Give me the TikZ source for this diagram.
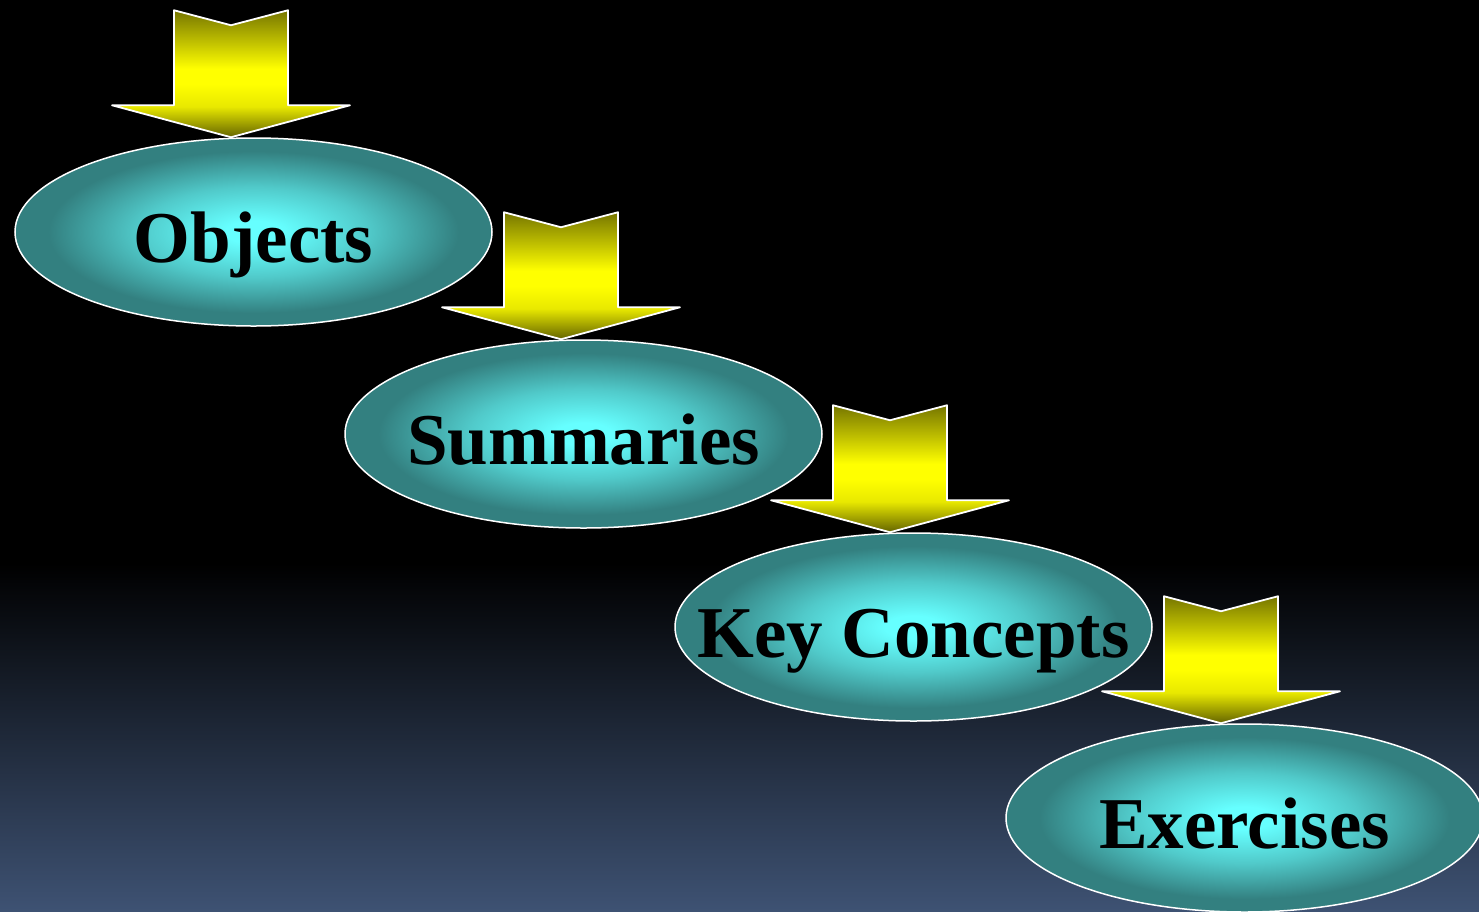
\documentclass[tikz,border=0pt]{standalone}
\usepackage{fontspec}
\setmainfont{Liberation Serif}
\usetikzlibrary{shapes.geometric,calc}
\definecolor{bgblue}{RGB}{62,82,115}
\definecolor{cyanC}{RGB}{102,255,255}
\definecolor{tealE}{RGB}{51,128,128}
\definecolor{oliveA}{RGB}{118,118,0}
\definecolor{oliveT}{RGB}{100,100,0}
\definecolor{yelY}{RGB}{255,255,0}
\pgfdeclareradialshading{bubbleshade}{\pgfpoint{0bp}{0bp}}{color(0bp)=(cyanC); color(3bp)=(cyanC); color(12bp)=(cyanC!58!tealE); color(21.5bp)=(tealE); color(25bp)=(tealE); color(50bp)=(tealE)}
\pgfdeclareverticalshading{arrowshade}{100bp}{color(0bp)=(oliveT); color(25bp)=(oliveT); color(37bp)=(yelY!85!oliveT); color(46bp)=(yelY); color(52bp)=(yelY); color(75bp)=(oliveA); color(100bp)=(oliveA)}
\newcommand\bubtext[1]{\makebox[0pt]{#1}}
\tikzset{
  bubble/.style={ellipse, draw=white, line width=0.75pt, shading=bubbleshade,
    minimum width=238.5pt, minimum height=94pt, inner sep=0pt,
    text height=30pt, text depth=0pt,
    font=\fontsize{36.5}{36.5}\selectfont\bfseries, text=black},
  downarr/.pic={
    \path[shading=arrowshade, draw=white, line width=0.9pt, line join=round]
      (0,0) -- (-119,-32) -- (-57,-32) -- (-57,-127) -- (0,-112)
      -- (57,-127) -- (57,-32) -- (119,-32) -- cycle;
  }
}
\begin{document}
\begin{tikzpicture}[x=0.5pt,y=-0.5pt]
\useasboundingbox (0,0) rectangle (1479,911);
\fill[black] (0,0) rectangle (1479,564);
\shade[top color=black, bottom color=bgblue] (0,563) rectangle (1479,911);

\node[bubble] (obj) at (253.5,232) {\bubtext{Objects}};
\node[bubble] (sum) at (583.5,434) {\bubtext{Summaries}};
\node[bubble] (key) at (913.5,627) {\bubtext{Key Concepts}};
\node[bubble] (exe) at (1244.5,818) {\bubtext{Exercises}};

\pic at ($(obj.north)+(-22.5,0)$) {downarr};
\pic at ($(sum.north)+(-22.5,0)$) {downarr};
\pic at ($(key.north)+(-23.5,0)$) {downarr};
\pic at ($(exe.north)+(-23.5,0)$) {downarr};
\end{tikzpicture}
\end{document}
